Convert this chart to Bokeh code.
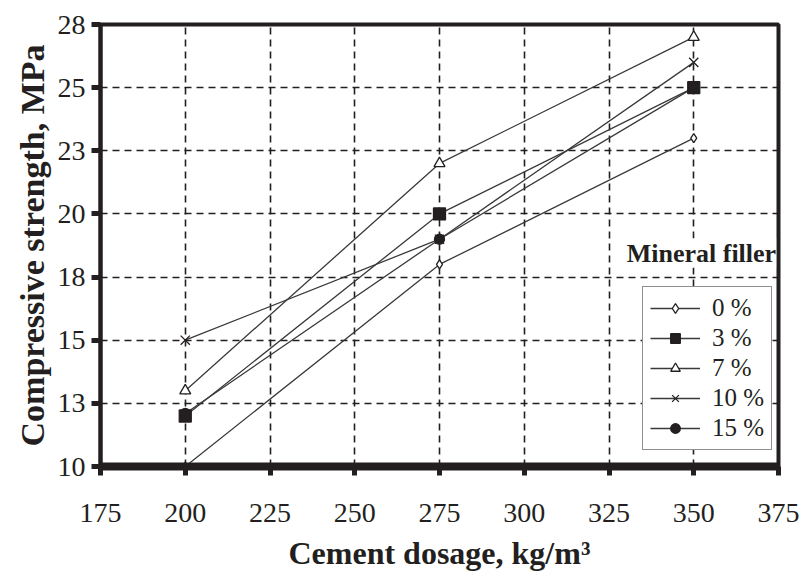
from bokeh.plotting import figure
from bokeh.models import FixedTicker, Legend, LegendItem, Label
from bokeh.embed import file_html
from bokeh.resources import INLINE

# data
cement = [200, 275, 350]
s0 = [10.0, 18.0, 23.0]
s3 = [12.0, 20.0, 25.0]
s7 = [13.0, 22.0, 27.0]
s10 = [15.0, 19.0, 26.0]
s15 = [12.1, 19.0, 25.0]
series_names = ["0 %", "3 %", "7 %", "10 %", "15 %"]
x_ticks = [175, 200, 225, 250, 275, 300, 325, 350, 375]
y_ticks = [10, 12.5, 15, 17.5, 20, 22.5, 25, 27.5]
y_tick_labels = ["10", "13", "15", "18", "20", "23", "25", "28"]

FONT = "Liberation Serif"
INK = "#231f20"
LINE = "#3a3a3a"

p = figure(width=804, height=578, x_range=(175, 375), y_range=(10, 27.5),
           output_backend="svg", toolbar_location=None,
           min_border_left=100, min_border_right=26, min_border_top=24,
           min_border_bottom=112)
p.background_fill_color = "white"
p.border_fill_color = "white"
p.outline_line_color = INK
p.outline_line_width = 4
p.outline_line_alpha = 1

for ax in (p.xaxis[0], p.yaxis[0]):
    ax.axis_line_color = INK
    ax.major_tick_line_color = INK
    ax.major_tick_line_width = 5
    ax.major_tick_out = 9
    ax.major_tick_in = 0
    ax.minor_tick_line_color = None
    ax.major_label_text_font = FONT
    ax.major_label_text_font_size = "28px"
    ax.major_label_text_color = INK
    ax.axis_label_text_font = FONT
    ax.axis_label_text_font_style = "bold"
    ax.axis_label_text_color = INK

p.xaxis.axis_line_width = 8
p.yaxis.axis_line_width = 4
p.xaxis.ticker = FixedTicker(ticks=x_ticks)
p.yaxis.ticker = FixedTicker(ticks=y_ticks)
p.yaxis.major_label_overrides = {t: l for t, l in zip(y_ticks, y_tick_labels)}
p.xaxis.major_label_standoff = 28
p.yaxis.major_label_standoff = 6
p.xaxis.axis_label = "Cement dosage, kg/m³"
p.yaxis.axis_label = "Compressive strength, MPa"
p.xaxis.axis_label_text_font_size = "32px"
p.yaxis.axis_label_text_font_size = "34px"
p.xaxis.axis_label_standoff = 10
p.yaxis.axis_label_standoff = 4

for g in (p.xgrid[0], p.ygrid[0]):
    g.grid_line_color = INK
    g.grid_line_width = 1.6
    g.grid_line_dash = "7 5"

series = [s0, s3, s7, s10, s15]
markers = ["diamond", "square", "triangle", "x", "circle"]
sizes = [9, 12, 11, 13, 10]
fills = ["white", INK, "white", INK, INK]
renderers = {}
# draw order so that overlapping markers stack as in the original
for i in [0, 3, 4, 1, 2]:
    vals = series[i]
    r1 = p.line(cement, vals, line_color=LINE, line_width=1.3)
    r2 = p.scatter(cement, vals, marker=markers[i], size=sizes[i], line_color=INK,
                   fill_color=fills[i], line_width=1.3)
    renderers[i] = [r1, r2]
items = [LegendItem(label=series_names[i], renderers=renderers[i]) for i in range(5)]

legend = Legend(items=items, location=(542, 16))
legend.label_text_font = FONT
legend.label_text_font_size = "25px"
legend.label_text_color = INK
legend.border_line_color = INK
legend.border_line_width = 1.5
legend.background_fill_alpha = 1
legend.glyph_width = 50
legend.glyph_height = 24
legend.label_height = 24
legend.spacing = 2
legend.padding = 7
legend.margin = 0
legend.label_standoff = 12
p.add_layout(legend)

p.add_layout(Label(x=374.3, y=18.45, text="Mineral filler", text_align="right",
                   text_baseline="middle", text_font=FONT, text_font_size="26px",
                   text_font_style="bold", text_color=INK,
                   background_fill_color="white"))

open("out.html", "w").write(file_html(p, INLINE))
